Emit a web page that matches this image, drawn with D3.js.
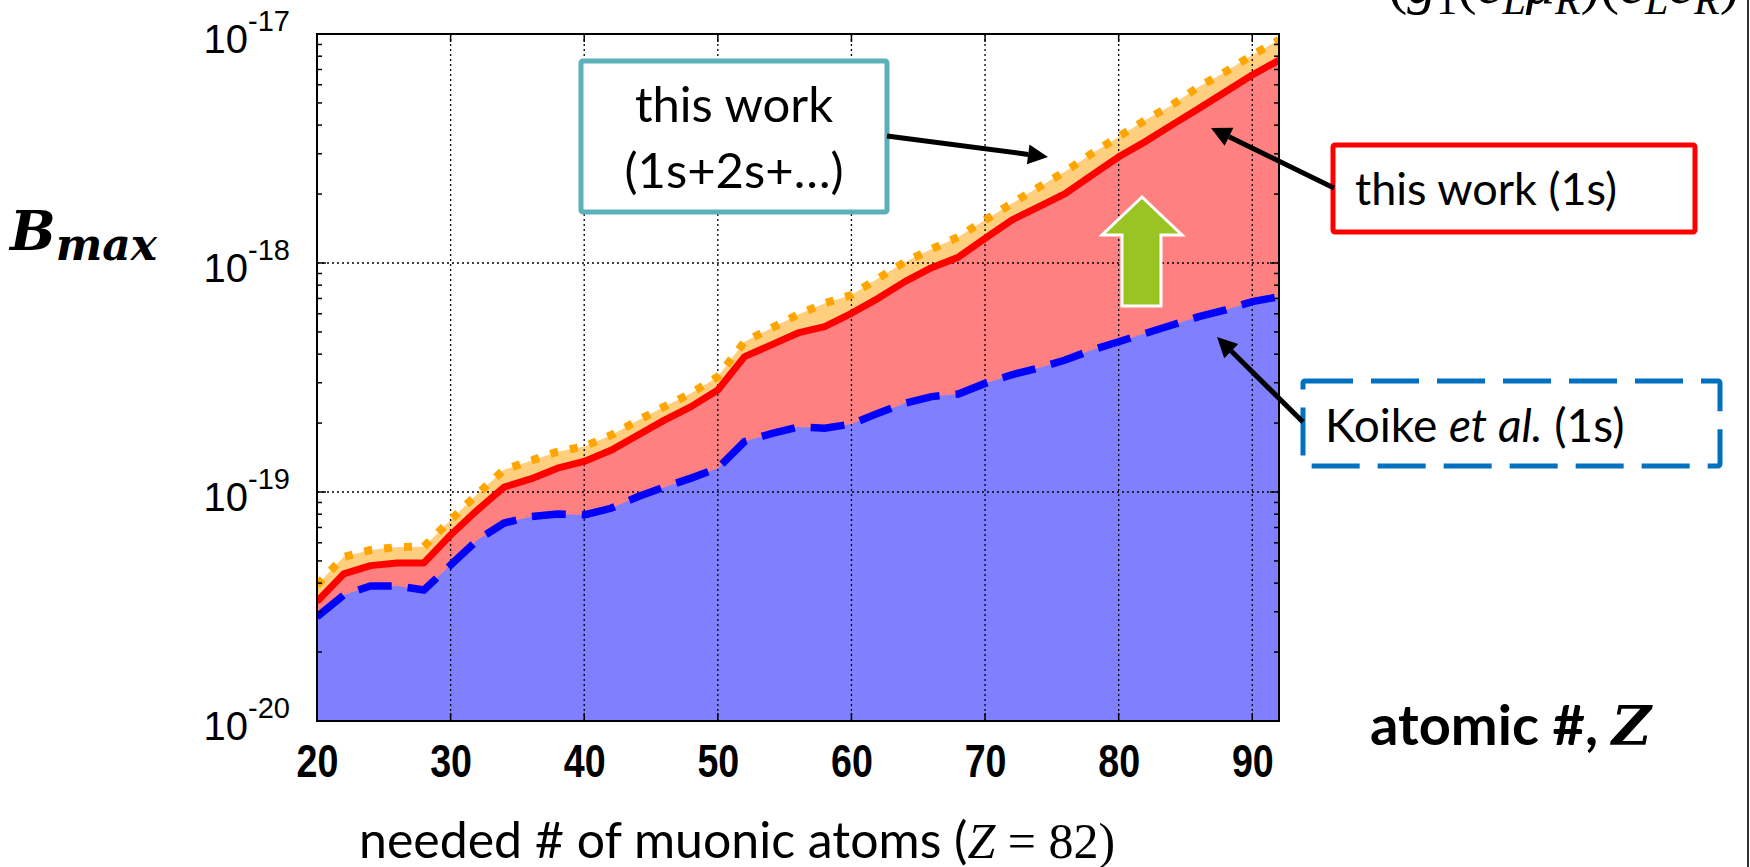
<!DOCTYPE html>
<html>
<head>
<meta charset="utf-8">
<script src="https://cdn.jsdelivr.net/npm/d3@7"></script>
<style>
  html, body { margin: 0; padding: 0; background: #fff; }
  svg { display: block; }
</style>
</head>
<body>
<svg width="1750" height="867"></svg>
<script>
// atomic number Z on the x axis
const atomicNumbers = [20, 22, 24, 26, 28, 30, 32, 34, 36, 38, 40, 42, 44, 46, 48, 50, 52, 54, 56,
  58, 60, 62, 64, 66, 68, 70, 72, 74, 76, 78, 80, 82, 84, 86, 88, 90, 92];

// this work (1s+2s+...) - orange dotted
const bmaxAllStates = [3.93e-20, 5.21e-20, 5.58e-20, 5.75e-20, 5.77e-20, 7.55e-20, 9.80e-20, 1.25e-19,
  1.37e-19, 1.50e-19, 1.58e-19, 1.77e-19, 2.05e-19, 2.36e-19, 2.70e-19, 3.19e-19, 4.53e-19, 5.19e-19,
  5.96e-19, 6.67e-19, 7.25e-19, 8.57e-19, 1.01e-18, 1.15e-18, 1.30e-18, 1.54e-18, 1.82e-18, 2.14e-18,
  2.51e-18, 3.01e-18, 3.56e-18, 4.21e-18, 4.90e-18, 5.89e-18, 6.84e-18, 8.09e-18, 9.42e-18];

// this work (1s) - red solid
const bmax1s = [3.32e-20, 4.39e-20, 4.77e-20, 4.90e-20, 4.90e-20, 6.49e-20, 8.34e-20, 1.05e-19,
  1.14e-19, 1.27e-19, 1.36e-19, 1.52e-19, 1.77e-19, 2.06e-19, 2.36e-19, 2.79e-19, 3.90e-19, 4.39e-19,
  4.95e-19, 5.27e-19, 6.03e-19, 7.01e-19, 8.29e-19, 9.54e-19, 1.06e-18, 1.28e-18, 1.54e-18, 1.76e-18,
  2.01e-18, 2.42e-18, 2.91e-18, 3.39e-18, 4.01e-18, 4.73e-18, 5.60e-18, 6.62e-18, 7.69e-18];

// Koike et al. (1s) - blue dashed
const bmaxKoike = [2.85e-20, 3.55e-20, 3.89e-20, 3.89e-20, 3.73e-20, 4.80e-20, 6.17e-20, 7.32e-20,
  7.80e-20, 8.02e-20, 7.94e-20, 8.49e-20, 9.53e-20, 1.05e-19, 1.15e-19, 1.27e-19, 1.66e-19, 1.80e-19,
  1.92e-19, 1.90e-19, 1.98e-19, 2.21e-19, 2.44e-19, 2.61e-19, 2.68e-19, 2.98e-19, 3.25e-19, 3.48e-19,
  3.77e-19, 4.17e-19, 4.53e-19, 4.93e-19, 5.36e-19, 5.83e-19, 6.24e-19, 6.78e-19, 7.13e-19];

const xTicks = [20, 30, 40, 50, 60, 70, 80, 90];
const yDecades = [1e-20, 1e-19, 1e-18, 1e-17];
const yExponents = ["-20", "-19", "-18", "-17"];

const svg = d3.select("svg");

const x = d3.scaleLinear().domain([20, 92]).range([317, 1279]);
const y = d3.scaleLog().domain([1e-20, 1e-17]).range([721, 34]);

const rows = atomicNumbers.map((z, i) => ({
  z, all: bmaxAllStates[i], one: bmax1s[i], koike: bmaxKoike[i]
}));

svg.append("defs").append("clipPath").attr("id", "plotClip")
  .append("rect").attr("x", 317).attr("y", 34).attr("width", 1279 - 317).attr("height", 721 - 34);

const plot = svg.append("g").attr("clip-path", "url(#plotClip)");

const areaFor = key => d3.area().x(d => x(d.z)).y0(y(1e-20)).y1(d => y(d[key]));
const lineFor = key => d3.line().x(d => x(d.z)).y(d => y(d[key]));

// filled bands
plot.append("path").attr("d", areaFor("all")(rows)).attr("fill", "#ffcf80");
plot.append("path").attr("d", areaFor("one")(rows)).attr("fill", "#ff8080");
plot.append("path").attr("d", areaFor("koike")(rows)).attr("fill", "#8080ff");

// dotted grid
const grid = plot.append("g").attr("stroke", "#000").attr("stroke-width", 1.3)
  .attr("stroke-dasharray", "2,3");
grid.selectAll("line.v").data(xTicks.slice(1)).join("line")
  .attr("x1", d => x(d)).attr("x2", d => x(d)).attr("y1", 34).attr("y2", 721);
grid.selectAll("line.h").data(yDecades.slice(1, 3)).join("line")
  .attr("x1", 317).attr("x2", 1279).attr("y1", d => y(d)).attr("y2", d => y(d));

// curves
plot.append("path").attr("d", lineFor("all")(rows)).attr("fill", "none")
  .attr("stroke", "#ffa500").attr("stroke-width", 8).attr("stroke-dasharray", "8,12");
plot.append("path").attr("d", lineFor("one")(rows)).attr("fill", "none")
  .attr("stroke", "#ff0000").attr("stroke-width", 7).attr("stroke-linejoin", "round");
plot.append("path").attr("d", lineFor("koike")(rows)).attr("fill", "none")
  .attr("stroke", "#0000ff").attr("stroke-width", 7.5).attr("stroke-dasharray", "34,16");

// frame and ticks
svg.append("rect").attr("x", 317).attr("y", 34).attr("width", 1279 - 317).attr("height", 721 - 34)
  .attr("fill", "none").attr("stroke", "#000").attr("stroke-width", 2);

const yAll = y.ticks();
const ticks = svg.append("g").attr("stroke", "#000").attr("stroke-width", 1.5);
ticks.selectAll("line.yl").data(yAll).join("line")
  .attr("x1", 317).attr("x2", d => 317 + (yDecades.includes(d) ? 9 : 5))
  .attr("y1", d => y(d)).attr("y2", d => y(d));
ticks.selectAll("line.yr").data(yAll).join("line")
  .attr("x1", 1279).attr("x2", d => 1279 - (yDecades.includes(d) ? 9 : 5))
  .attr("y1", d => y(d)).attr("y2", d => y(d));
ticks.selectAll("line.xt").data(xTicks).join("line")
  .attr("x1", d => x(d)).attr("x2", d => x(d)).attr("y1", 34).attr("y2", 42);
ticks.selectAll("line.xb").data(xTicks).join("line")
  .attr("x1", d => x(d)).attr("x2", d => x(d)).attr("y1", 721).attr("y2", 713);

// x tick labels
const xAxis = svg.append("g").attr("transform", "translate(0,721)")
  .call(d3.axisBottom(x).tickValues(xTicks).tickSize(0).tickPadding(24).tickFormat(d3.format("d")));
xAxis.select(".domain").remove();
xAxis.selectAll("text")
  .attr("font-family", "'Liberation Sans', Arial, sans-serif")
  .attr("font-weight", "bold").attr("font-size", 47).attr("fill", "#000")
  .attr("dy", "0.68em").attr("transform", "scale(0.8,1)");

// y tick labels: 10^n
const yLabels = svg.append("g").attr("font-family", "'Liberation Sans', Arial, sans-serif").attr("fill", "#000");
yLabels.selectAll("text").data(yDecades).join("text")
  .attr("x", 290).attr("y", d => y(d) + 19).attr("text-anchor", "end")
  .each(function (d, i) {
    const t = d3.select(this);
    t.append("tspan").attr("font-size", 40).text("10");
    t.append("tspan").attr("font-size", 29).attr("dy", -22).text(yExponents[i]);
  });

// y axis title B_max
const bTitle = svg.append("text").attr("x", 10).attr("y", 250)
  .attr("font-family", "'DejaVu Serif', 'Liberation Serif', serif")
  .attr("font-weight", "bold").attr("font-style", "italic").attr("fill", "#000");
bTitle.append("tspan").attr("font-size", 54).text("B");
bTitle.append("tspan").attr("font-size", 44).attr("dy", 10).text("max");

// x axis titles
const zTitle = svg.append("text").attr("x", 1370).attr("y", 745)
  .attr("font-family", "Lato, 'Open Sans', sans-serif").attr("font-weight", "bold")
  .attr("font-size", 56).attr("fill", "#000");
zTitle.append("tspan").text("atomic #, ");
zTitle.append("tspan").attr("font-family", "'DejaVu Serif', serif").attr("font-style", "italic")
  .attr("font-size", 54).text("Z");

const nTitle = svg.append("text").attr("x", 359).attr("y", 858)
  .attr("font-family", "Lato, 'Open Sans', sans-serif").attr("font-size", 50).attr("fill", "#000");
nTitle.append("tspan").text("needed # of muonic atoms (");
nTitle.append("tspan").attr("font-family", "'Liberation Serif', serif").attr("font-style", "italic").text("Z");
nTitle.append("tspan").attr("font-family", "'Liberation Serif', serif").text(" = 82)");

// cut-off formula at top right
const formula = svg.append("text").attr("x", 1388).attr("y", 3)
  .attr("font-family", "'Liberation Serif', serif").attr("font-style", "italic")
  .attr("font-size", 58).attr("fill", "#000");
[["(", 0], ["g", 0], ["1", 11], ["(", -11], ["e", 0], ["L", 11], ["μ", -11], ["R", 11], [")(", -11],
 ["e", 0], ["L", 11], ["e", -11], ["R", 11], [")", -11], ["*", -22], [")", 22]].forEach(([s, dy]) => {
  const sub = dy > 0 || s === "*";
  formula.append("tspan").attr("dy", dy).attr("font-size", sub ? 42 : 58)
    .attr("font-style", /[()1*]/.test(s) ? "normal" : "italic").text(s);
});

// slide edge
svg.append("line").attr("x1", 1748).attr("x2", 1748).attr("y1", 0).attr("y2", 867)
  .attr("stroke", "#333").attr("stroke-width", 2);

// annotation boxes
const boxFont = "Lato, 'Open Sans', sans-serif";
svg.append("rect").attr("x", 581).attr("y", 61).attr("width", 306).attr("height", 151).attr("rx", 2)
  .attr("fill", "#fff").attr("stroke", "#5bb0b9").attr("stroke-width", 5);
svg.append("text").attr("x", 734).attr("y", 122).attr("text-anchor", "middle")
  .attr("font-family", boxFont).attr("font-size", 49).text("this work");
svg.append("text").attr("x", 734).attr("y", 188).attr("text-anchor", "middle")
  .attr("font-family", boxFont).attr("font-size", 49).text("(1s+2s+…)");

svg.append("rect").attr("x", 1333).attr("y", 145).attr("width", 362).attr("height", 87).attr("rx", 2)
  .attr("fill", "#fff").attr("stroke", "#ff0000").attr("stroke-width", 5);
svg.append("text").attr("x", 1355).attr("y", 205)
  .attr("font-family", boxFont).attr("font-size", 45).text("this work (1s)");

svg.append("rect").attr("x", 1303).attr("y", 381).attr("width", 417).attr("height", 85).attr("rx", 2)
  .attr("fill", "#fff").attr("stroke", "#0070c0").attr("stroke-width", 5).attr("stroke-dasharray", "48,18");
const koike = svg.append("text").attr("x", 1325).attr("y", 442)
  .attr("font-family", boxFont).attr("font-size", 46);
koike.append("tspan").text("Koike ");
koike.append("tspan").attr("font-style", "italic").text("et al.");
koike.append("tspan").text(" (1s)");

// black arrows
function arrow(x1, y1, x2, y2) {
  const a = Math.atan2(y2 - y1, x2 - x1), len = 20, hw = 10;
  const bx = x2 - len * Math.cos(a), by = y2 - len * Math.sin(a);
  svg.append("line").attr("x1", x1).attr("y1", y1).attr("x2", bx).attr("y2", by)
    .attr("stroke", "#000").attr("stroke-width", 5);
  svg.append("path").attr("fill", "#000").attr("d", d3.line()([
    [x2, y2],
    [bx + hw * Math.sin(a), by - hw * Math.cos(a)],
    [bx - hw * Math.sin(a), by + hw * Math.cos(a)]
  ]) + "Z");
}
arrow(887, 136, 1048, 157);
arrow(1334, 188, 1211, 128);
arrow(1303, 422, 1217, 337);

// green up arrow
svg.append("path").attr("d", d3.line()([
  [1142, 197], [1182, 235], [1161, 235], [1161, 306], [1122, 306], [1122, 235], [1102, 235]
]) + "Z").attr("fill", "#9ac424").attr("stroke", "#fff").attr("stroke-width", 3);
</script>
</body>
</html>
